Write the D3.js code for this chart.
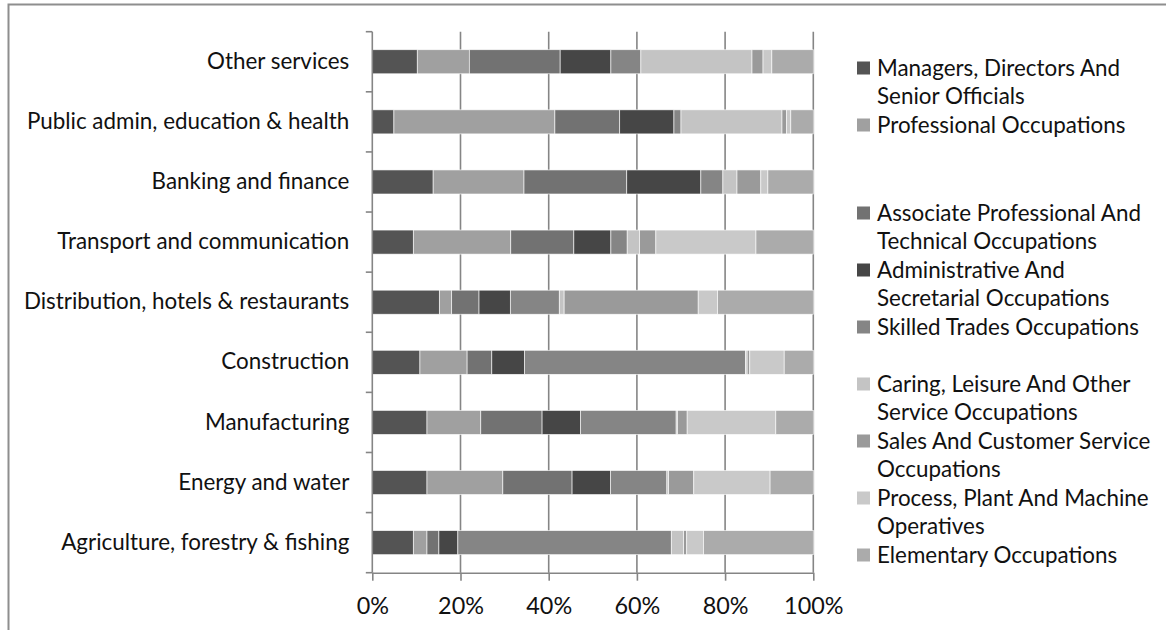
<!DOCTYPE html>
<html>
<head>
<meta charset="utf-8">
<script src="https://cdn.jsdelivr.net/npm/d3@7"></script>
<style>
  html, body { margin: 0; padding: 0; background: #fff; }
  svg { display: block; }
  text { font-family: Lato, "Open Sans", sans-serif; fill: #111; }
</style>
</head>
<body>
<svg id="chart" width="1166" height="630"></svg>
<script>
// Industries, listed top to bottom
const categories = [
  "Other services",
  "Public admin, education & health",
  "Banking and finance",
  "Transport and communication",
  "Distribution, hotels & restaurants",
  "Construction",
  "Manufacturing",
  "Energy and water",
  "Agriculture, forestry & fishing"
];

// Occupation groups (stack order, left to right)
const seriesNames = [
  "Managers, Directors And Senior Officials",
  "Professional Occupations",
  "Associate Professional And Technical Occupations",
  "Administrative And Secretarial Occupations",
  "Skilled Trades Occupations",
  "Caring, Leisure And Other Service Occupations",
  "Sales And Customer Service Occupations",
  "Process, Plant And Machine Operatives",
  "Elementary Occupations"
];

// Share of employment (%) per industry, same order as categories
const managers       = [10.2,  4.9, 13.8,  9.3, 15.2, 10.8, 12.4, 12.4,  9.3];
const professional   = [11.8, 36.5, 20.6, 22.1,  2.8, 10.7, 12.2, 17.2,  3.1];
const associate      = [20.6, 14.7, 23.3, 14.3,  6.2,  5.6, 13.9, 15.7,  2.7];
const administrative = [11.5, 12.3, 16.8,  8.4,  7.1,  7.4,  8.7,  8.7,  4.3];
const skilledTrades  = [ 6.8,  1.6,  5.0,  3.7, 11.1, 50.1, 21.7, 12.8, 48.4];
const caringLeisure  = [25.2, 22.9,  3.2,  2.8,  1.1,  0.4,  0.3,  0.4,  2.8];
const salesCustomer  = [ 2.5,  1.0,  5.4,  3.7, 30.4,  0.6,  2.2,  5.7,  0.7];
const processPlant   = [ 2.0,  1.0,  1.6, 22.7,  4.4,  7.8, 20.1, 17.3,  3.8];
const elementary     = [ 9.4,  5.1, 10.3, 13.0, 21.7,  6.6,  8.5,  9.8, 24.9];

const seriesValues = [managers, professional, associate, administrative,
  skilledTrades, caringLeisure, salesCustomer, processPlant, elementary];

const xTicks = [0, 0.2, 0.4, 0.6, 0.8, 1.0];

const colors = ["#545454", "#a0a0a0", "#727272", "#464646", "#858585",
                "#c4c4c4", "#9a9a9a", "#c9c9c9", "#ababab"];

// ---- layout ----
const svg = d3.select("#chart");
const plot = { left: 372.3, right: 813.3, top: 31.7, bottom: 572.7 };
const fontSize = 22.4;
const gridColor = "#858585";

// outer chart frame (extends past the canvas on the right and bottom)
svg.append("rect")
  .attr("x", 8.5).attr("y", 4.5)
  .attr("width", 1200).attr("height", 700)
  .attr("fill", "none").attr("stroke", "#8e8e8e").attr("stroke-width", 2);

const rows = categories.map((c, i) => {
  const r = { category: c };
  seriesNames.forEach((s, j) => { r[s] = seriesValues[j][i]; });
  return r;
});

const stack = d3.stack().keys(seriesNames).offset(d3.stackOffsetExpand);
const stacked = stack(rows);

const x = d3.scaleLinear().domain([0, 1]).range([plot.left, plot.right]);
const y = d3.scaleBand().domain(categories)
  .range([plot.top, plot.bottom]).paddingInner(0.6).paddingOuter(0.3);
const color = d3.scaleOrdinal().domain(seriesNames).range(colors);

// vertical gridlines
svg.append("g")
  .selectAll("line")
  .data(xTicks.slice(1))
  .join("line")
  .attr("x1", d => x(d)).attr("x2", d => x(d))
  .attr("y1", plot.top).attr("y2", plot.bottom)
  .attr("stroke", gridColor).attr("stroke-width", 1.6);

// stacked bars
svg.append("g")
  .selectAll("g")
  .data(stacked)
  .join("g")
  .attr("fill", d => color(d.key))
  .selectAll("rect")
  .data(d => d)
  .join("rect")
  .attr("x", d => x(d[0]))
  .attr("width", d => Math.max(0, x(d[1]) - x(d[0])))
  .attr("y", d => y(d.data.category))
  .attr("height", y.bandwidth())
  .attr("stroke", "#ffffff").attr("stroke-width", 0.7).attr("stroke-opacity", 0.85);

// category axis: line, boundary ticks and labels
const yAxis = svg.append("g").attr("transform", `translate(${plot.left},0)`);
yAxis.append("line")
  .attr("x1", 0).attr("x2", 0).attr("y1", plot.top).attr("y2", plot.bottom)
  .attr("stroke", gridColor).attr("stroke-width", 1.6);
yAxis.selectAll("line.tick")
  .data(d3.range(categories.length + 1))
  .join("line").attr("class", "tick")
  .attr("x1", -6.5).attr("x2", 0)
  .attr("y1", i => plot.top + i * y.step())
  .attr("y2", i => plot.top + i * y.step())
  .attr("stroke", gridColor).attr("stroke-width", 1.6);
svg.append("g")
  .attr("transform", `translate(${plot.left},0)`)
  .call(d3.axisLeft(y).tickSize(0).tickPadding(23))
  .call(g => g.select(".domain").remove())
  .call(g => g.selectAll("text")
    .attr("font-size", fontSize).attr("font-family", null).attr("fill", "#111"));

// percentage axis
svg.append("g")
  .attr("transform", `translate(0,${plot.bottom})`)
  .call(d3.axisBottom(x).tickValues(xTicks).tickFormat(d3.format(".0%"))
    .tickSize(8).tickSizeOuter(0))
  .call(g => g.select(".domain").attr("stroke", gridColor).attr("stroke-width", 1.6))
  .call(g => g.selectAll(".tick line").attr("stroke", gridColor).attr("stroke-width", 1.6))
  .call(g => g.selectAll(".tick text")
    .attr("font-size", fontSize + 1).attr("font-family", null).attr("fill", "#111")
    .attr("y", 41).attr("dy", 0));

// legend
const legend = { x: 857, textX: 877, top: 68, slot: 57, extra: 31, lineH: 28.4, box: 13, maxW: 280 };
const legendG = svg.append("g");

seriesNames.forEach((name, i) => {
  const cy = legend.top + i * legend.slot + (i >= 2 ? legend.extra : 0);
  legendG.append("rect")
    .attr("x", legend.x).attr("y", cy - legend.box / 2)
    .attr("width", legend.box).attr("height", legend.box)
    .attr("fill", colors[i]);

  const t = legendG.append("text")
    .attr("x", legend.textX).attr("y", cy)
    .attr("font-size", fontSize);

  // word wrap into lines no wider than maxW
  const words = name.split(" ");
  let line = [];
  let lineNo = 0;
  let tspan = t.append("tspan").attr("x", legend.textX).attr("dy", "0.36em");
  words.forEach(w => {
    line.push(w);
    tspan.text(line.join(" "));
    if (tspan.node().getComputedTextLength() > legend.maxW && line.length > 1) {
      line.pop();
      tspan.text(line.join(" "));
      line = [w];
      lineNo++;
      tspan = t.append("tspan").attr("x", legend.textX)
        .attr("y", cy + lineNo * legend.lineH).attr("dy", "0.36em").text(w);
    }
  });
});
</script>
</body>
</html>
